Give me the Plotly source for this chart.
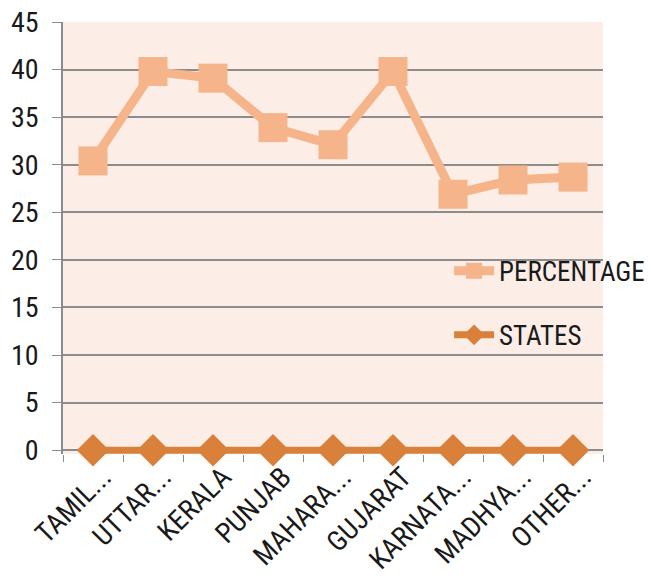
import plotly.graph_objects as go

categories = ["TAMIL...", "UTTAR...", "KERALA", "PUNJAB", "MAHARA...",
              "GUJARAT", "KARNATA...", "MADHYA...", "OTHER..."]
percentage = [30.4, 39.8, 39.1, 33.9, 32.1, 39.8, 26.9, 28.4, 28.7]
states = [0, 0, 0, 0, 0, 0, 0, 0, 0]
y_ticks = [0, 5, 10, 15, 20, 25, 30, 35, 40, 45]

FONT = "Liberation Sans Narrow, Roboto Condensed, Arial Narrow, sans-serif"

fig = go.Figure()
fig.add_trace(go.Scatter(
    x=categories, y=percentage, name="PERCENTAGE", mode="lines+markers",
    line=dict(color="#F5B48A", width=9),
    marker=dict(symbol="square", size=29, color="#F5B48A"),
    legendgroup="a", cliponaxis=False,
))
fig.add_trace(go.Scatter(
    x=categories, y=states, name="STATES", mode="lines+markers",
    line=dict(color="#D9803A", width=7),
    marker=dict(symbol="diamond", size=25, color="#D9803A"),
    legendgroup="b", cliponaxis=False,
))

fig.update_layout(
    width=651, height=586,
    margin=dict(l=63, r=48, t=22, b=132, autoexpand=False),
    paper_bgcolor="white",
    plot_bgcolor="#FCEDE7",
    font=dict(family=FONT, size=22, color="#1a1a1a"),
    showlegend=True,
    legend=dict(x=0.715, y=0.48, xanchor="left", yanchor="top",
                bgcolor="rgba(0,0,0,0)", tracegroupgap=26,
                font=dict(size=27, family=FONT), itemwidth=40),
)
fig.update_xaxes(
    type="category", range=[-0.5, 8.5], tickangle=-45,
    tickson="boundaries", ticks="outside", ticklen=7, tickcolor="#8c8c8c",
    showline=False, showgrid=False, tickfont=dict(size=28), automargin=False,
    ticklabelshift=10,
)
fig.update_yaxes(
    range=[-0.4, 45], tickvals=y_ticks, ticks="outside", ticklen=9,
    tickcolor="#8c8c8c", showline=True, linecolor="#8c8c8c", linewidth=1.5,
    showgrid=True, gridcolor="#8c8c8c", gridwidth=1.5,
    zeroline=True, zerolinecolor="#8c8c8c", zerolinewidth=1.5,
    tickfont=dict(size=28), ticklabelstandoff=8, automargin=False,
)

fig.write_html("out.html")
